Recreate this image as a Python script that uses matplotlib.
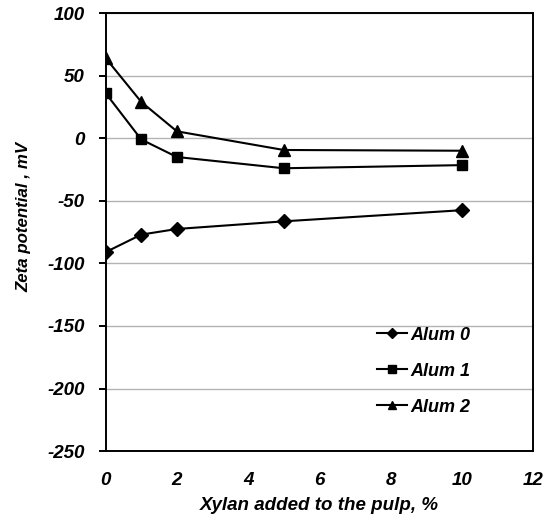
import matplotlib
matplotlib.use('Agg')
import matplotlib.pyplot as plt

# Zetapotential gegen Xylan-Zugabe, drei Alaun-Stufen
xylan = [0, 1, 2, 5, 10]
alum0 = [-91, -77, -72.5, -66.4, -57.5]
alum1 = [36, -1, -15, -24, -21.5]
alum2 = [64, 29, 5.5, -9.4, -10]

serien = [
    ('Alum 0', alum0, 'D', 7),
    ('Alum 1', alum1, 's', 7.5),
    ('Alum 2', alum2, '^', 8),
]

plt.rcParams['font.family'] = ['Liberation Sans', 'DejaVu Sans']
plt.rcParams['axes.unicode_minus'] = False
schrift = dict(fontweight='bold', fontstyle='italic')

fig = plt.figure(figsize=(5.53, 5.21), dpi=100)
ax = fig.add_axes([0.191, 0.134, 0.773, 0.841])

for name, werte, marker, groesse in serien:
    ax.plot(xylan, werte, color='black', linewidth=1.5, marker=marker,
            markersize=groesse, label=name)

ax.set_xlim(0, 12)
ax.set_ylim(-250, 100)
ax.set_xticks(range(0, 13, 2))
ax.set_yticks(range(-250, 101, 50))
ax.yaxis.grid(True, color='#b3b3b3', linewidth=1)
ax.set_axisbelow(True)

for spine in ax.spines.values():
    spine.set_linewidth(1.4)

ax.tick_params(axis='x', length=0, pad=15)
ax.tick_params(axis='y', length=5, width=1.4, direction='out', pad=10)
for lbl in ax.get_xticklabels() + ax.get_yticklabels():
    lbl.set_fontsize(13.5)
    lbl.set_fontweight('bold')
    lbl.set_fontstyle('italic')

ax.set_xlabel('Xylan added to the pulp, %', fontsize=13.5, labelpad=6, **schrift)
ax.set_ylabel('Zeta potential , mV', fontsize=12.2, **schrift)
ax.yaxis.set_label_coords(-0.173, 0.534)

leg = ax.legend(loc='upper left', bbox_to_anchor=(0.635, 0.284), frameon=False,
                borderpad=0, borderaxespad=0,
                handlelength=1.67, handletextpad=0.15, labelspacing=1.05,
                prop={'size': 13, 'weight': 'bold', 'style': 'italic'})
for linie in leg.get_lines():
    linie.set_markersize(5.5)

fig.savefig('out.png', dpi=100)
